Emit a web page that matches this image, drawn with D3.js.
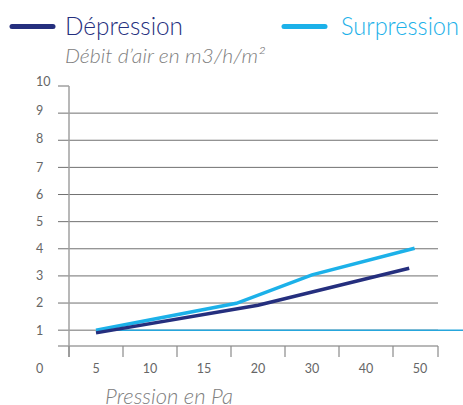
<!DOCTYPE html>
<html>
<head>
<meta charset="utf-8">
<script src="https://cdn.jsdelivr.net/npm/d3@7"></script>
<style>
  html, body { margin: 0; padding: 0; background: #fff; }
  svg { display: block; font-family: Lato, "Open Sans", sans-serif; }
</style>
</head>
<body>
<svg id="chart" width="463" height="405"></svg>
<script>
// x categories (Pa) and y ticks
const categories = ["5", "10", "15", "20", "30", "40", "50"];
const pressures = [5, 10, 15, 20, 30, 40, 50];
const yTicks = [1, 2, 3, 4, 5, 6, 7, 8, 9, 10];

// series
const depX = [5, 20, 48];
const depY = [0.9, 1.92, 3.28];
const surX = [5, 18, 30, 49];
const surY = [1.0, 1.99, 3.04, 4.02];
const refValue = 1;

const navy = "#252f7e";
const cyan = "#1cb1e9";

const svg = d3.select("#chart");
const W = 463;
const plotLeft = 69, plotRight = 438, plotTop = 86, axisY = 346, tickLeft = 58;

const y = d3.scaleLinear().domain([0, 10]).range([357.3, plotTop]);
const xb = d3.scaleBand().domain(categories).range([plotLeft, 447]);
const xp = d3.scaleLinear()
  .domain(pressures)
  .range(categories.map(c => xb(c) + xb.bandwidth() / 2));

// legend
const legend = [
  { name: "Dépression", color: navy, lx: 12, tx: 65, len: 118 },
  { name: "Surpression", color: cyan, lx: 284, tx: 341, len: 118 }
];
legend.forEach(d => {
  svg.append("line")
    .attr("x1", d.lx).attr("x2", d.lx + 41)
    .attr("y1", 26.5).attr("y2", 26.5)
    .attr("stroke", d.color).attr("stroke-width", 5)
    .attr("stroke-linecap", "round");
  svg.append("text")
    .attr("x", d.tx).attr("y", 35)
    .attr("font-size", 26).attr("font-weight", 300)
    .attr("fill", d.color)
    .attr("textLength", d.len).attr("lengthAdjust", "spacingAndGlyphs")
    .text(d.name);
});

svg.append("text")
  .attr("x", 65).attr("y", 63)
  .attr("font-size", 19).attr("font-style", "italic").attr("font-weight", 300)
  .attr("fill", "#808080")
  .attr("textLength", 200).attr("lengthAdjust", "spacingAndGlyphs")
  .text("Débit d’air en m3/h/m²");

// gridlines
svg.append("g").selectAll("line")
  .data(yTicks)
  .join("line")
  .attr("x1", tickLeft)
  .attr("x2", d => d === 10 ? plotLeft : plotRight)
  .attr("y1", d => y(d)).attr("y2", d => y(d))
  .attr("stroke", "#707070").attr("stroke-width", 1);

// y labels
svg.append("g").selectAll("text")
  .data(yTicks)
  .join("text")
  .attr("x", 36)
  .attr("y", d => y(d) - (d > 7 ? (d - 7) * 1.3 : 0))
  .attr("dy", "0.35em")
  .attr("font-size", 12.5)
  .attr("fill", "#666")
  .text(d => d);

// axes
svg.append("line")
  .attr("x1", plotLeft).attr("x2", plotLeft)
  .attr("y1", plotTop).attr("y2", 357)
  .attr("stroke", "#a0a0a0").attr("stroke-width", 1.5);
svg.append("line")
  .attr("x1", tickLeft).attr("x2", plotRight)
  .attr("y1", axisY).attr("y2", axisY)
  .attr("stroke", "#a0a0a0").attr("stroke-width", 1.5);

const tickXs = categories.map(c => xb(c)).concat([plotRight]);
svg.append("g").selectAll("line")
  .data(tickXs)
  .join("line")
  .attr("x1", d => d).attr("x2", d => d)
  .attr("y1", axisY).attr("y2", 357)
  .attr("stroke", "#8a8a8a").attr("stroke-width", 1.2);

svg.append("g").selectAll("text")
  .data(categories)
  .join("text")
  .attr("x", d => xb(d) + xb.bandwidth() / 2)
  .attr("y", 369)
  .attr("dy", "0.35em")
  .attr("text-anchor", "middle")
  .attr("font-size", 12.5)
  .attr("fill", "#666")
  .text(d => d);

svg.append("text")
  .attr("x", 36).attr("y", 369).attr("dy", "0.35em")
  .attr("font-size", 12.5).attr("fill", "#666")
  .text("0");

svg.append("text")
  .attr("x", 105).attr("y", 404)
  .attr("font-size", 21).attr("font-style", "italic").attr("font-weight", 300)
  .attr("fill", "#808080")
  .attr("textLength", 128).attr("lengthAdjust", "spacingAndGlyphs")
  .text("Pression en Pa");

// reference line at 1
svg.append("line")
  .attr("x1", xp(depX[0])).attr("x2", W)
  .attr("y1", y(refValue)).attr("y2", y(refValue))
  .attr("stroke", "#26a6dc").attr("stroke-width", 1.5);

// series
const line = d3.line().x(d => xp(d[0])).y(d => y(d[1]));
svg.append("path")
  .datum(surX.map((v, i) => [v, surY[i]]))
  .attr("d", line)
  .attr("fill", "none").attr("stroke", cyan).attr("stroke-width", 3.5);
svg.append("path")
  .datum(depX.map((v, i) => [v, depY[i]]))
  .attr("d", line)
  .attr("fill", "none").attr("stroke", navy).attr("stroke-width", 3.5);
</script>
</body>
</html>
